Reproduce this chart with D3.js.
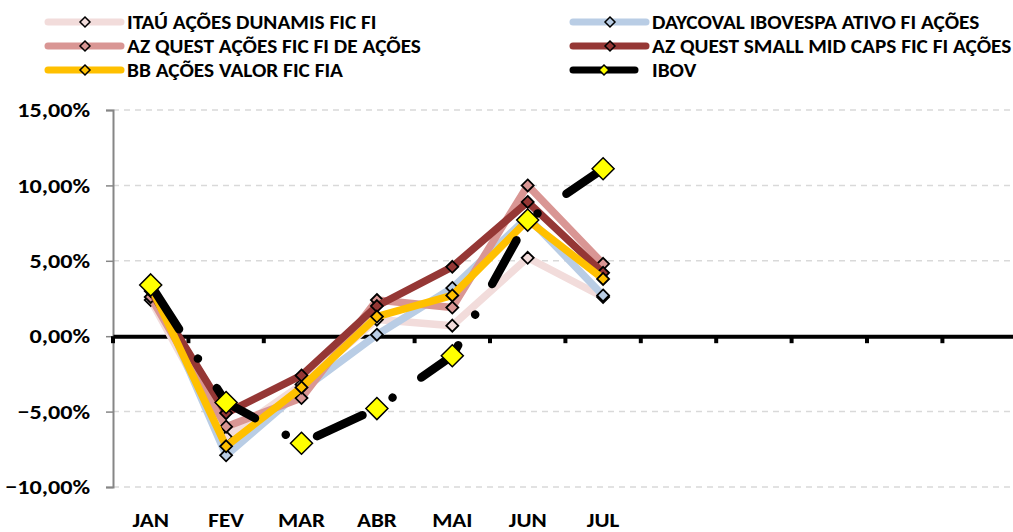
<!DOCTYPE html>
<html>
<head>
<meta charset="utf-8">
<script src="https://cdn.jsdelivr.net/npm/d3@7"></script>
<style>
  body { margin: 0; background: #fff; }
  text { font-family: Carlito, Lato, "Open Sans", sans-serif; font-weight: bold; fill: #000; }
</style>
</head>
<body>
<svg id="chart" width="1013" height="532"></svg>
<script>
// months (the last five slots are empty in the source chart)
const monthLabels = ["JAN", "FEV", "MAR", "ABR", "MAI", "JUN", "JUL", "", "", "", "", ""]
const yTicks = [-0.10, -0.05, 0, 0.05, 0.10, 0.15]

// monthly returns
const itau     = [0.024, -0.067, -0.032, 0.011, 0.007, 0.052, 0.026]
const daycoval = [0.036, -0.079, -0.036, 0.001, 0.032, 0.079, 0.027]
const azQuest  = [0.026, -0.060, -0.041, 0.024, 0.019, 0.100, 0.048]
const azSmall  = [0.030, -0.051, -0.026, 0.020, 0.046, 0.089, 0.042]
const bbValor  = [0.033, -0.073, -0.034, 0.013, 0.027, 0.077, 0.038]
const ibov     = [0.034, -0.044, -0.071, -0.048, -0.013, 0.077, 0.111]

const series = [
  {name: "ITAÚ AÇÕES DUNAMIS FIC FI", values: itau, color: "#f2dcdb"},
  {name: "DAYCOVAL IBOVESPA ATIVO FI AÇÕES", values: daycoval, color: "#b9cde5"},
  {name: "AZ QUEST AÇÕES FIC FI DE AÇÕES", values: azQuest, color: "#d99694"},
  {name: "AZ QUEST SMALL MID CAPS FIC FI AÇÕES", values: azSmall, color: "#953735"},
  {name: "BB AÇÕES VALOR FIC FIA", values: bbValor, color: "#ffc000"},
  {name: "IBOV", values: ibov, color: "#000000", ibov: true}
]

const svg = d3.select("#chart")
const plotLeft = 113, plotTop = 110, plotBottom = 487
const bandW = 75.4

const x = d3.scaleBand()
  .domain(d3.range(monthLabels.length))
  .range([plotLeft, plotLeft + bandW * monthLabels.length])
  .padding(0)
const xc = i => x(i) + x.bandwidth() / 2

const y = d3.scaleLinear()
  .domain([-0.10, 0.15])
  .range([plotBottom, plotTop])

const pct = d => d3.format(".2f")(d * 100).replace(".", ",") + "%"

// gridlines
svg.append("g")
  .selectAll("line")
  .data(yTicks.filter(d => d !== 0))
  .enter()
  .append("line")
  .attr("x1", plotLeft).attr("x2", 1013)
  .attr("y1", d => y(d)).attr("y2", d => y(d))
  .attr("stroke", "#d9d9d9")
  .attr("stroke-width", 1.5)
  .attr("stroke-dasharray", "6,5")

// y axis
const yAxis = svg.append("g")
  .attr("transform", `translate(${plotLeft},0)`)
  .call(d3.axisLeft(y).tickValues(yTicks).tickFormat(pct).tickSize(7).tickPadding(16))
yAxis.select(".domain").attr("stroke", "#868686").attr("stroke-width", 2)
yAxis.selectAll(".tick line").attr("stroke", "#868686").attr("stroke-width", 1.5)
// the source text is a bit stretched sideways
yAxis.selectAll("text")
  .attr("x", 0)
  .attr("transform", "translate(-23,0) scale(1.15,1)")
  .attr("font-size", 21)
  .style("font-family", "Carlito, Lato, sans-serif").style("font-weight", "bold")

// zero line with category ticks
const xAxis = svg.append("g")
  .attr("transform", `translate(0,${y(0)})`)
  .call(d3.axisBottom(x).tickSize(0).tickFormat(""))
xAxis.select(".domain").attr("stroke", "#000").attr("stroke-width", 4)
xAxis.selectAll(".tick").remove()
xAxis.selectAll(".cattick")
  .data(d3.range(monthLabels.length + 1))
  .enter()
  .append("line")
  .attr("x1", i => plotLeft + i * bandW).attr("x2", i => plotLeft + i * bandW)
  .attr("y1", 0).attr("y2", 7)
  .attr("stroke", "#000")
  .attr("stroke-width", 4)

// month labels at the bottom
svg.append("g")
  .selectAll("text")
  .data(monthLabels.filter(d => d !== ""))
  .enter()
  .append("text")
  .attr("transform", (d, i) => `translate(${xc(i)},527) scale(1.1,1)`)
  .attr("text-anchor", "middle")
  .attr("font-size", 21)
  .text(d => d)

const line = d3.line()
  .x((d, i) => xc(i))
  .y(d => y(d))

const diamond = (s) => `M0,${-s}L${s},0L0,${s}L${-s},0Z`

series.forEach(s => {
  const g = svg.append("g")
  g.append("path")
    .datum(s.values)
    .attr("fill", "none")
    .attr("stroke", s.color)
    .attr("stroke-width", s.ibov ? 8.5 : 7.5)
    .attr("stroke-linejoin", "round")
    .attr("stroke-linecap", "round")
    // long dash - dot, as in the original
    .attr("stroke-dasharray", s.ibov ? "50,35,0.01,35" : null)
    .attr("stroke-dashoffset", s.ibov ? -2.5 : null)
    .attr("d", line)
  g.selectAll("path.m")
    .data(s.values)
    .enter()
    .append("path")
    .attr("class", "m")
    .attr("transform", (d, i) => `translate(${xc(i)},${y(d)})`)
    .attr("d", diamond(s.ibov ? 11 : 6))
    .attr("fill", s.ibov ? "#ffff00" : s.color)
    .attr("stroke", "#000")
    .attr("stroke-width", s.ibov ? 1.5 : 1.8)
})

// legend
const legendPos = [
  {lx: 48, ly: 22}, {lx: 573, ly: 22},
  {lx: 48, ly: 46}, {lx: 573, ly: 46},
  {lx: 48, ly: 70}, {lx: 573, ly: 70}
]
series.forEach((s, i) => {
  const p = legendPos[i]
  const len = s.ibov ? 62 : 73
  const g = svg.append("g").attr("transform", `translate(${p.lx},${p.ly})`)
  g.append("line")
    .attr("x1", 0).attr("x2", len)
    .attr("y1", 0).attr("y2", 0)
    .attr("stroke", s.color)
    .attr("stroke-width", 7)
    .attr("stroke-linecap", "round")
  g.append("path")
    .attr("transform", `translate(${s.ibov ? 31 : 37},0)`)
    .attr("d", diamond(5))
    .attr("fill", s.ibov ? "#ffff00" : s.color)
    .attr("stroke", "#000")
    .attr("stroke-width", 1.5)
  g.append("text")
    .attr("transform", "translate(79,7) scale(1.065,1)")
    .attr("font-size", 20)
    .text(s.name)
})
</script>
</body>
</html>
